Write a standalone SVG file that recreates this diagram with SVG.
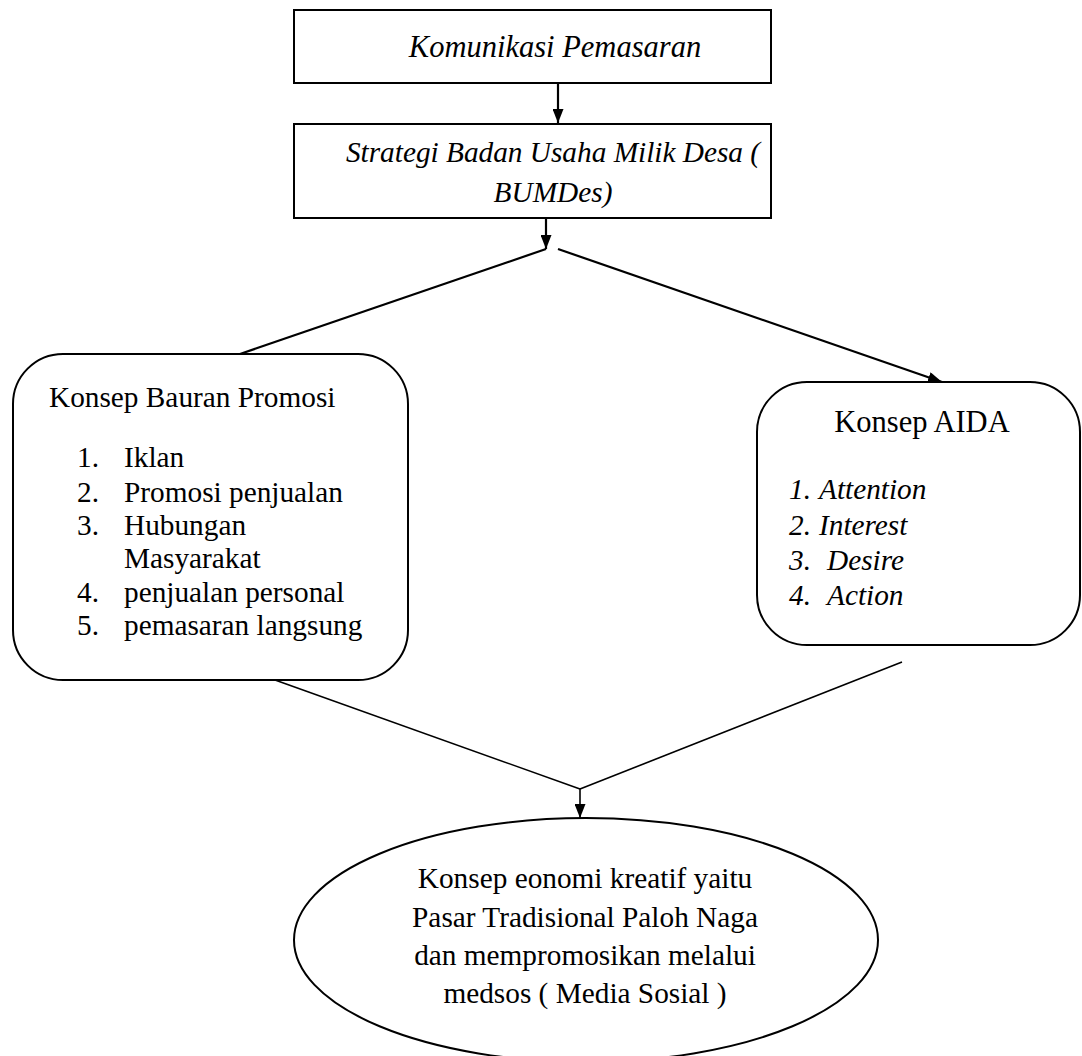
<svg xmlns="http://www.w3.org/2000/svg" width="1082" height="1056" viewBox="0 0 1082 1056" font-family="Liberation Serif" font-size="29.3">
<defs>
  <marker id="arrow" markerUnits="userSpaceOnUse" markerWidth="14" markerHeight="11" refX="14" refY="5.5" orient="auto">
    <path d="M0,0 L14,5.5 L0,11 z" fill="#000"/>
  </marker>
</defs>
<rect width="1082" height="1056" fill="#fff"/>

<g id="connectors" fill="none" stroke="#000">
  <g stroke-width="2.2">
    <line x1="558" y1="83" x2="558" y2="123" marker-end="url(#arrow)"/>
    <line x1="546" y1="217" x2="546" y2="249" marker-end="url(#arrow)"/>
    <line x1="546" y1="249" x2="240" y2="354"/>
    <line x1="558" y1="249" x2="942" y2="382" marker-end="url(#arrow)"/>
  </g>
  <g stroke-width="1.6">
    <line x1="275" y1="680" x2="580" y2="789"/>
    <line x1="902" y1="662" x2="580" y2="789"/>
    <line x1="580" y1="789" x2="580" y2="818" marker-end="url(#arrow)"/>
  </g>
</g>

<g id="node-komunikasi">
  <rect x="294" y="10" width="477" height="73" fill="#fff" stroke="#000" stroke-width="2"/>
  <text font-family="serif" font-size="30.5" font-style="italic" text-anchor="middle" x="555" y="57">Komunikasi Pemasaran</text>
</g>

<g id="node-strategi" font-style="italic" text-anchor="middle">
  <rect x="294" y="124" width="477" height="94" fill="#fff" stroke="#000" stroke-width="2"/>
  <text font-family="serif" x="553" y="162">Strategi Badan Usaha Milik Desa (</text>
  <text font-family="serif" x="553" y="202">BUMDes)</text>
</g>

<g id="node-bauran">
  <rect x="13" y="354" width="395" height="326" rx="50" ry="50" fill="#fff" stroke="#000" stroke-width="2"/>
  <text font-family="serif" x="49" y="407">Konsep Bauran Promosi</text>
  <text font-family="serif" x="77" y="467">1.</text><text font-family="serif" x="124" y="467">Iklan</text>
  <text font-family="serif" x="77" y="502">2.</text><text font-family="serif" x="124" y="502">Promosi penjualan</text>
  <text font-family="serif" x="77" y="535">3.</text><text font-family="serif" x="124" y="535">Hubungan</text>
  <text font-family="serif" x="124" y="568">Masyarakat</text>
  <text font-family="serif" x="77" y="602">4.</text><text font-family="serif" x="124" y="602">penjualan personal</text>
  <text font-family="serif" x="77" y="635">5.</text><text font-family="serif" x="124" y="635">pemasaran langsung</text>
</g>

<g id="node-aida">
  <rect x="757" y="382" width="323" height="263" rx="50" ry="50" fill="#fff" stroke="#000" stroke-width="2"/>
  <text font-family="serif" font-size="30.5" text-anchor="middle" x="922" y="432">Konsep AIDA</text>
  <g font-style="italic">
    <text font-family="serif" x="789" y="499">1.</text><text font-family="serif" x="819" y="499">Attention</text>
    <text font-family="serif" x="789" y="535">2.</text><text font-family="serif" x="819" y="535">Interest</text>
    <text font-family="serif" x="789" y="570">3.</text><text font-family="serif" x="827" y="570">Desire</text>
    <text font-family="serif" x="789" y="605">4.</text><text font-family="serif" x="827" y="605">Action</text>
  </g>
</g>

<g id="node-ekonomi" text-anchor="middle">
  <ellipse cx="586" cy="940" rx="292" ry="122" fill="#fff" stroke="#000" stroke-width="2"/>
  <text font-family="serif" x="585" y="888">Konsep eonomi kreatif yaitu</text>
  <text font-family="serif" x="585" y="927">Pasar Tradisional Paloh Naga</text>
  <text font-family="serif" x="585" y="965">dan mempromosikan melalui</text>
  <text font-family="serif" x="585" y="1003">medsos ( Media Sosial )</text>
</g>
</svg>
